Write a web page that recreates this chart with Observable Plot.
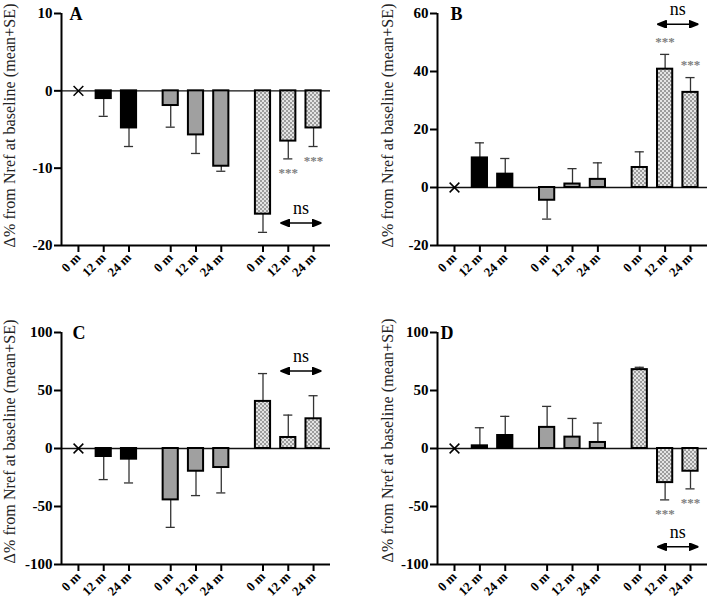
<!DOCTYPE html>
<html>
<head>
<meta charset="utf-8">
<script src="https://cdn.jsdelivr.net/npm/d3@7"></script>
<script src="https://cdn.jsdelivr.net/npm/@observablehq/plot@0.6"></script>
<style>
  html, body { margin: 0; padding: 0; background: #fff; }
  #wrap { position: relative; width: 709px; height: 606px; background: #fff; overflow: hidden; }
  .panel { position: absolute; }
  #defs { position: absolute; width: 0; height: 0; }
</style>
</head>
<body>
<svg id="defs" width="0" height="0">
  <defs>
    <pattern id="check" width="4" height="4" patternUnits="userSpaceOnUse">
      <rect width="4" height="4" fill="#e4e4e4"></rect>
      <rect width="2" height="2" fill="#9c9c9c"></rect>
      <rect x="2" y="2" width="2" height="2" fill="#9c9c9c"></rect>
    </pattern>
  </defs>
</svg>
<div id="wrap"></div>
<script>
// ---------- data ----------
const times = ["0 m", "12 m", "24 m"];
const groupFills = ["#000000", "#a0a0a0", "url(#check)"];
const yTitle = "Δ% from Nref at baseline (mean+SE)";

// order: black 0/12/24, gray 0/12/24, hatched 0/12/24
const meanA = [0, -1.0, -4.8, -1.9, -5.7, -9.75, -15.95, -6.5, -4.8];
const seA   = [0, 2.3, 2.4, 2.8, 2.4, 0.65, 2.35, 2.3, 2.4];
const sigA  = ["", "", "", "", "", "", "", "***", "***"];
const ticksA = [10, 0, -10, -20];
const domainA = [-20, 10];
const nsA = -17.1;

const meanB = [0, 10.2, 4.6, -4.4, 1.2, 2.8, 6.9, 40.8, 32.8];
const seB   = [0, 5.2, 5.4, 6.5, 5.3, 5.7, 5.4, 5.1, 5.1];
const sigB  = ["", "", "", "", "", "", "", "***", "***"];
const ticksB = [60, 40, 20, 0, -20];
const domainB = [-20, 60];
const nsB = 56.3;

const meanC = [0, -6.9, -9.2, -44.3, -19.6, -16.4, 40.6, 9.5, 25.6];
const seC   = [0, 19.9, 20.5, 23.7, 21.0, 21.9, 24.0, 19.3, 19.9];
const sigC  = ["", "", "", "", "", "", "", "", ""];
const ticksC = [100, 50, 0, -50, -100];
const domainC = [-100, 100];
const nsC = 66.8;

const meanD = [0, 2.3, 11.2, 18.2, 9.8, 5.2, 68.0, -29.4, -19.6];
const seD   = [0, 15.6, 16.5, 18.1, 16.1, 16.7, 2.0, 14.9, 15.2];
const sigD  = ["", "", "", "", "", "", "", "***", "***"];
const ticksD = [100, 50, 0, -50, -100];
const domainD = [-100, 100];
const nsD = -84.7;

// ---------- layout / style constants ----------
const GROUP_STEP = 3.65;   // distance between group starts (in bar slots)
const HALF = 0.30;         // half bar width (slots)
const CAP = 0.18;          // half error-cap width (slots)
const PAD = 0.67;          // outer padding (slots)
const TITLE_LEN = 244;     // length of the y title (px)
const xDomain = [-PAD, 2 * GROUP_STEP + 2 + PAD];
const FONT = "'Liberation Serif', 'Times New Roman', serif";

function arrowHead(color) {
  const ns = "http://www.w3.org/2000/svg";
  const m = document.createElementNS(ns, "marker");
  m.setAttribute("viewBox", "-9 -4 10 8");
  m.setAttribute("markerWidth", 10);
  m.setAttribute("markerHeight", 8);
  m.setAttribute("markerUnits", "userSpaceOnUse");
  m.setAttribute("orient", "auto-start-reverse");
  const p = document.createElementNS(ns, "path");
  p.setAttribute("d", "M-9,-3.6L0,0L-9,3.6Z");
  p.setAttribute("fill", color);
  m.appendChild(p);
  return m;
}

function panel(cfg) {
  const rows = [];
  for (let g = 0; g < 3; g++) {
    for (let t = 0; t < 3; t++) {
      const i = g * 3 + t;
      rows.push({g, t, time: times[t], pos: g * GROUP_STEP + t,
                 mean: cfg.mean[i], se: cfg.se[i], sig: cfg.sig[i]});
    }
  }
  const ref = rows.filter(d => d.g === 0 && d.t === 0);
  const bars = rows.filter(d => !(d.g === 0 && d.t === 0));
  const errEnd = d => d.mean + (d.mean >= 0 ? d.se : -d.se);
  const posLabel = new Map(rows.map(d => [d.pos, d.time]));
  const p12 = rows.find(d => d.g === 2 && d.t === 1).pos;
  const p24 = rows.find(d => d.g === 2 && d.t === 2).pos;
  const ns = [{x1: p12 - HALF, x2: p24 + HALF, y: cfg.ns}];

  const svg = Plot.plot({
    width: cfg.width,
    height: 303,
    marginLeft: cfg.ml,
    marginRight: cfg.mr,
    marginTop: cfg.mt,
    marginBottom: cfg.mb,
    style: {fontFamily: FONT, color: "#000", background: "#fff", overflow: "visible"},
    x: {domain: xDomain, axis: null},
    y: {domain: cfg.domain, axis: null},
    color: {type: "identity"},
    marks: [
      Plot.ruleY([0], {stroke: "#111", strokeWidth: 1.4}),
      Plot.ruleX(bars, {x: "pos", y1: "mean", y2: errEnd, stroke: "#333", strokeWidth: 1.3}),
      Plot.ruleY(bars, {y: errEnd, x1: d => d.pos - CAP, x2: d => d.pos + CAP, stroke: "#333", strokeWidth: 1.3}),
      Plot.rectY(bars, {x1: d => d.pos - HALF, x2: d => d.pos + HALF, y1: 0, y2: "mean",
                        fill: d => groupFills[d.g], stroke: "#000", strokeWidth: 2}),
      Plot.dot(ref, {x: "pos", y: "mean", symbol: "times", r: 4.5, stroke: "#000", strokeWidth: 1.5}),
      Plot.text(bars.filter(d => d.sig && d.mean >= 0), {x: "pos", y: errEnd, text: "sig", dy: -13,
                        fill: "#808080", fontSize: 13, fontWeight: "bold"}),
      Plot.text(bars.filter(d => d.sig && d.mean < 0), {x: "pos", y: errEnd, text: "sig", dy: 14,
                        fill: "#808080", fontSize: 13, fontWeight: "bold"}),
      Plot.link(ns, {x1: "x1", x2: "x2", y1: "y", y2: "y", stroke: "#000", strokeWidth: 1.6,
                     markerStart: arrowHead, markerEnd: arrowHead}),
      Plot.text(ns, {x: d => (d.x1 + d.x2) / 2, y: "y", text: () => "ns", dy: -15, fontSize: 18}),
      Plot.ruleX([xDomain[0]], {stroke: "#000", strokeWidth: 2}),
      Plot.ruleY([cfg.domain[0]], {stroke: "#000", strokeWidth: 2}),
      Plot.axisY({ticks: cfg.ticks, tickFormat: d => String(d), tickSize: 7, tickPadding: 2,
                  strokeWidth: 2, fontWeight: "bold", fontSize: 15, label: null}),
      Plot.axisX({ticks: rows.map(d => d.pos), tickFormat: v => posLabel.get(v), tickRotate: -45,
                  tickSize: 7, tickPadding: 3, strokeWidth: 2, fontWeight: "bold", fontSize: 13, label: null}),
      Plot.text([cfg.letter], {frameAnchor: "top-left", dx: cfg.letterDx, dy: 1, lineAnchor: "middle",
                  textAnchor: "start", fontWeight: "bold", fontSize: 18}),
      Plot.text([yTitle], {frameAnchor: "left", rotate: -90, dx: -cfg.titleOffset, dy: cfg.titleDy,
                  lineAnchor: "top", textAnchor: "middle", fontSize: 16, fill: "#222"})
    ]
  });
  for (const t of svg.querySelectorAll("text")) {
    if (t.textContent === yTitle) {
      t.setAttribute("textLength", TITLE_LEN);
      t.setAttribute("lengthAdjust", "spacing");
    }
  }
  return svg;
}

const cfgs = [
  {letter: "A", mean: meanA, se: seA, sig: sigA, ticks: ticksA, domain: domainA, ns: nsA,
   width: 354, ml: 61, mr: 24, mt: 13, mb: 58, letterDx: 8, titleOffset: 58, titleDy: -4, left: 0, top: 0},
  {letter: "B", mean: meanB, se: seB, sig: sigB, ticks: ticksB, domain: domainB, ns: nsB,
   width: 355, ml: 83, mr: 2, mt: 13, mb: 58, letterDx: 13, titleOffset: 56, titleDy: -4, left: 354, top: 0},
  {letter: "C", mean: meanC, se: seC, sig: sigC, ticks: ticksC, domain: domainC, ns: nsC,
   width: 354, ml: 61, mr: 24, mt: 29, mb: 42, letterDx: 11, titleOffset: 58, titleDy: -7, left: 0, top: 303},
  {letter: "D", mean: meanD, se: seD, sig: sigD, ticks: ticksD, domain: domainD, ns: nsD,
   width: 355, ml: 83, mr: 2, mt: 29, mb: 42, letterDx: 3, titleOffset: 56, titleDy: -8, left: 354, top: 303}
];

const wrap = document.getElementById("wrap");
for (const c of cfgs) {
  const div = document.createElement("div");
  div.className = "panel";
  div.style.left = c.left + "px";
  div.style.top = c.top + "px";
  div.appendChild(panel(c));
  wrap.appendChild(div);
}
</script>
</body>
</html>
